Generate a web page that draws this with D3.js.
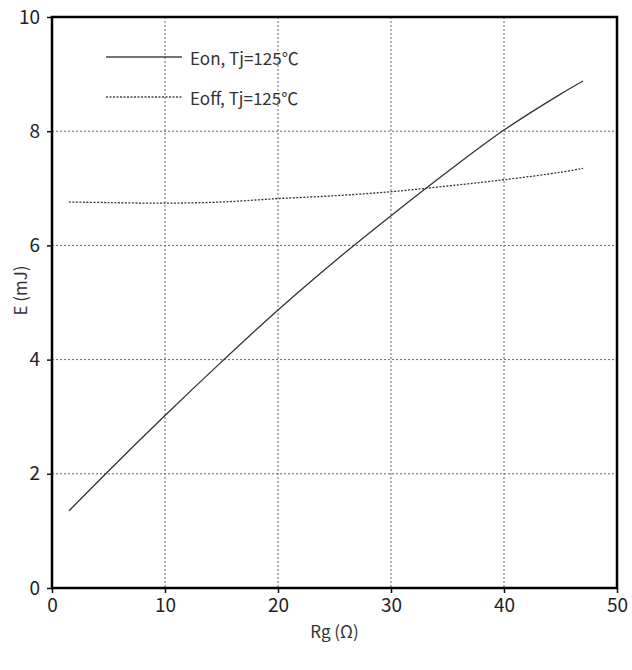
<!DOCTYPE html>
<html>
<head>
<meta charset="utf-8">
<script src="https://cdn.jsdelivr.net/npm/d3@7/dist/d3.min.js"></script>
<style>
  body { margin: 0; background: #fff; }
  svg text { font-family: "Noto Sans CJK SC", "Noto Sans", sans-serif; }
</style>
</head>
<body>
<svg id="chart" width="632" height="670"></svg>
<script>
// data
const rg = [1.5, 5, 10, 15, 20, 25, 30, 35, 40, 45, 47];
const eon = [1.35, 2.05, 3.02, 3.96, 4.87, 5.72, 6.52, 7.29, 8.02, 8.65, 8.88];
const eoff = [6.76, 6.75, 6.74, 6.76, 6.82, 6.87, 6.94, 7.04, 7.15, 7.28, 7.35];
const xTicks = [0, 10, 20, 30, 40, 50];
const yTicks = [0, 2, 4, 6, 8, 10];
const seriesNames = ["Eon, Tj=125\u2103", "Eoff, Tj=125\u2103"];

const margin = { top: 17, right: 15, bottom: 82, left: 52 };
const width = 632 - margin.left - margin.right;
const height = 670 - margin.top - margin.bottom;

const svg = d3.select("#chart")
  .append("g")
  .attr("transform", "translate(" + margin.left + "," + margin.top + ")");

const x = d3.scaleLinear().domain([0, 50]).range([0, width]);
const y = d3.scaleLinear().domain([0, 10]).range([height, 0]);

// grid
svg.append("g")
  .selectAll("line")
  .data(xTicks.slice(1, -1))
  .enter().append("line")
  .attr("x1", d => x(d)).attr("x2", d => x(d))
  .attr("y1", 0).attr("y2", height)
  .attr("stroke", "#666").attr("stroke-width", 1)
  .attr("stroke-dasharray", "2,2");

svg.append("g")
  .selectAll("line")
  .data(yTicks.slice(1, -1))
  .enter().append("line")
  .attr("x1", 0).attr("x2", width)
  .attr("y1", d => y(d)).attr("y2", d => y(d))
  .attr("stroke", "#666").attr("stroke-width", 1)
  .attr("stroke-dasharray", "2,2");

// axes
const xAxis = svg.append("g")
  .attr("transform", "translate(0," + height + ")")
  .call(d3.axisBottom(x).tickValues(xTicks).tickSize(5).tickPadding(6));
const yAxis = svg.append("g")
  .call(d3.axisLeft(y).tickValues(yTicks).tickSize(5).tickPadding(7));

[xAxis, yAxis].forEach(a => {
  a.select(".domain").remove();
  a.selectAll("line").attr("stroke", "#111").attr("stroke-width", 1.5);
  a.selectAll("text")
    .style("font-size", "19px")
    .attr("fill", "#222");
});

// frame
svg.append("rect")
  .attr("x", 0).attr("y", 0)
  .attr("width", width).attr("height", height)
  .attr("fill", "none")
  .attr("stroke", "#000")
  .attr("stroke-width", 2.5);

// curves
const line = d3.line()
  .x(d => x(d[0]))
  .y(d => y(d[1]))
  .curve(d3.curveCatmullRom);

svg.append("path")
  .datum(rg.map((r, i) => [r, eon[i]]))
  .attr("d", line)
  .attr("fill", "none")
  .attr("stroke", "#333")
  .attr("stroke-width", 1.3);

svg.append("path")
  .datum(rg.map((r, i) => [r, eoff[i]]))
  .attr("d", line)
  .attr("fill", "none")
  .attr("stroke", "#333")
  .attr("stroke-width", 1.3)
  .attr("stroke-dasharray", "2,1.5");

// legend
const legend = svg.append("g").attr("transform", "translate(54,40)");
seriesNames.forEach((name, i) => {
  const g = legend.append("g").attr("transform", "translate(0," + i * 40 + ")");
  g.append("line")
    .attr("x1", 0).attr("x2", 76)
    .attr("y1", 0).attr("y2", 0)
    .attr("stroke", "#444")
    .attr("stroke-width", 1.3)
    .attr("stroke-dasharray", i === 0 ? null : "2,1.5");
  g.append("text")
    .attr("x", 84).attr("y", 0)
    .attr("dominant-baseline", "central")
    .style("font-size", "17px")
    .attr("fill", "#333")
    .text(name);
});

// axis labels
svg.append("text")
  .attr("x", width / 2)
  .attr("y", height + 50)
  .attr("text-anchor", "middle")
  .style("font-size", "17px")
  .attr("fill", "#333")
  .text("Rg (\u03A9)");

svg.append("text")
  .attr("transform", "rotate(-90)")
  .attr("x", -height / 2 + 12)
  .attr("y", -33)
  .attr("dominant-baseline", "central")
  .attr("text-anchor", "middle")
  .style("font-size", "17px")
  .attr("fill", "#333")
  .text("E (mJ)");
</script>
</body>
</html>
